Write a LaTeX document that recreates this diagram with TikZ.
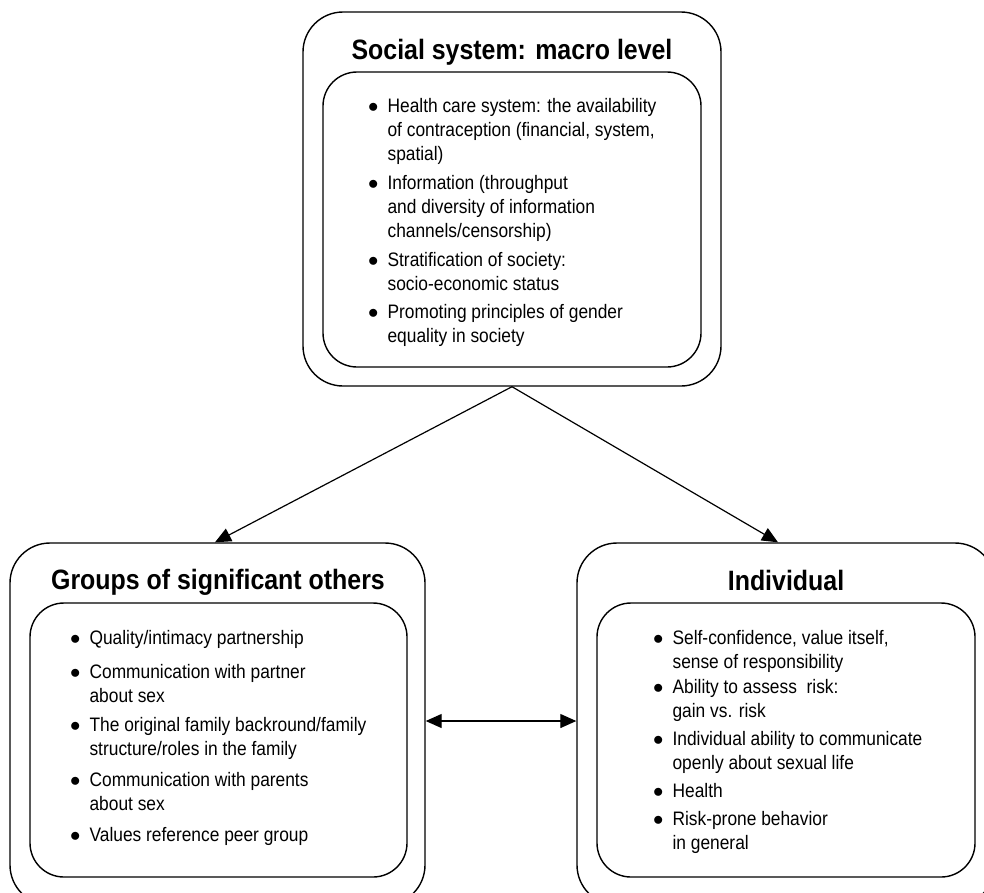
\documentclass[tikz,border=0pt]{standalone}
\usepackage{fontspec}
\setmainfont{Liberation Sans}[FakeStretch=0.89]
\usetikzlibrary{arrows.meta}

\begin{document}
\begin{tikzpicture}[x=1pt,y=-1pt,
        outerbox/.style={draw,line width=1.4pt,rounded corners=40pt,inner sep=0pt},
        innerbox/.style={draw,line width=1.4pt,rounded corners=34pt,inner sep=0pt},
        title/.style={font=\fontsize{28}{30}\selectfont\bfseries,inner sep=0pt,anchor=base},
        list/.style={font=\fontsize{19.5}{24}\selectfont,inner sep=0pt,anchor=north west},
        link/.style={line width=1.2pt},
        tri/.style={link,-{Triangle[length=16pt,width=14pt]}},
        twotri/.style={link,{Triangle[length=16pt,width=14pt]}-{Triangle[length=16pt,width=14pt]}}]
    \useasboundingbox (0,0) rectangle (984,892);
    \clip (0,0) rectangle (984,892);

    % Social system
    \node[outerbox,minimum width=418pt,minimum height=374pt] (social) at (512,199) {};
    \node[innerbox,minimum width=378pt,minimum height=295pt] (socialin) at (512,219.5) {};
    \node[title] (socialtitle) at (512,59) {Social system: macro level};
    \node[list] (sociallist) at (368,95) {%
        \begin{tabular}{@{}c@{\hspace{9pt}}l@{}}
        $\bullet$ & Health care system: the availability\\
         & of contraception (financial, system,\\
         & spatial)\\[5pt]
        $\bullet$ & Information (throughput\\
         & and diversity of information\\
         & channels/censorship)\\[5pt]
        $\bullet$ & Stratification of society:\\
         & socio-economic status\\[4pt]
        $\bullet$ & Promoting principles of gender\\
         & equality in society
        \end{tabular}};

    % Groups of significant others
    \node[outerbox,minimum width=415pt,minimum height=362pt] (groups) at (217.5,724) {};
    \node[innerbox,minimum width=377pt,minimum height=274pt] (groupsin) at (218.5,740) {};
    \node[title] (groupstitle) at (218,589) {Groups of significant others};
    \node[list] (groupslist) at (70,627) {%
        \begin{tabular}{@{}c@{\hspace{9pt}}l@{}}
        $\bullet$ & Quality/intimacy partnership\\[10pt]
        $\bullet$ & Communication with partner\\
         & about sex\\[5pt]
        $\bullet$ & The original family backround/family\\
         & structure/roles in the family\\[7pt]
        $\bullet$ & Communication with parents\\
         & about sex\\[7pt]
        $\bullet$ & Values reference peer group
        \end{tabular}};

    % Individual
    \node[outerbox,minimum width=418pt,minimum height=362pt] (indiv) at (786,724) {};
    \node[innerbox,minimum width=378pt,minimum height=274pt] (indivin) at (786,740) {};
    \node[title] (indivtitle) at (786,590) {Individual};
    \node[list] (indivlist) at (653,627) {%
        \begin{tabular}{@{}c@{\hspace{9pt}}l@{}}
        $\bullet$ & Self-confidence, value itself,\\
         & sense of responsibility\\[1pt]
        $\bullet$ & Ability to assess\ \ risk:\\
         & gain vs. risk\\[4pt]
        $\bullet$ & Individual ability to communicate\\
         & openly about sexual life\\[4pt]
        $\bullet$ & Health\\[4pt]
        $\bullet$ & Risk-prone behavior\\
         & in general
        \end{tabular}};

    % Arrows
    \coordinate (gtip) at ([xshift=-2.5pt]groups.north);
    \coordinate (itip) at ([xshift=-8pt]indiv.north);
    \draw[tri] (social.south) -- (gtip);
    \draw[tri] (social.south) -- (itip);
    \draw[twotri] ([yshift=3pt]groups.east) -- ([yshift=3pt]indiv.west);
\end{tikzpicture}
\end{document}
